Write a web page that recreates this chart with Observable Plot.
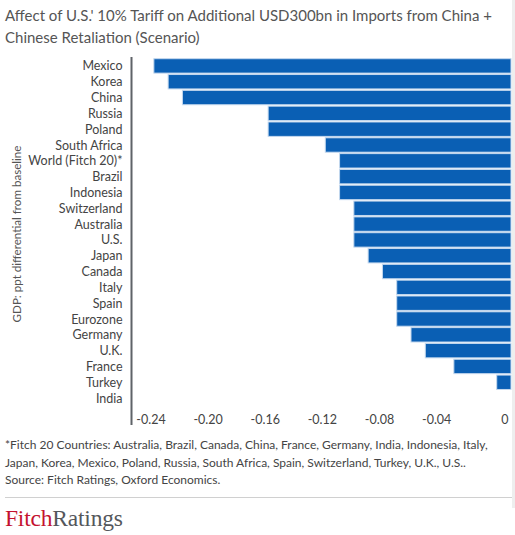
<!DOCTYPE html>
<html>
<head>
<meta charset="utf-8">
<script src="https://cdn.jsdelivr.net/npm/d3@7"></script>
<script src="https://cdn.jsdelivr.net/npm/@observablehq/plot@0.6"></script>
<style>
  html, body { margin: 0; padding: 0; background: #fff; }
  body { width: 515px; height: 535px; position: relative; overflow: hidden; font-family: Lato, "Open Sans", sans-serif; }
  #title { position: absolute; left: 5px; top: 4px; width: 505px; font-size: 15px; line-height: 22px; color: #555; }
  #chart { position: absolute; left: 0; top: 50px; line-height: 0; }
  #chart svg { display: block; }
  #ylabel { position: absolute; left: 17px; top: 234px; transform: translate(-50%, -50%) rotate(-90deg); white-space: nowrap; font-size: 11.6px; color: #555; line-height: 14px; }
  #note { position: absolute; left: 5px; top: 436px; width: 508px; font-size: 12px; line-height: 17.5px; color: #444; }
  #sep { position: absolute; left: 5px; top: 497px; width: 507px; height: 1px; background: #d0d0d0; }
  #logo { position: absolute; left: 5px; top: 505px; font-family: "Liberation Serif", "DejaVu Serif", serif; font-size: 23.5px; line-height: 26px; letter-spacing: -0.2px; }
  #logo .f { color: #c4122f; }
  #logo .r { color: #54575b; }
  #edge { position: absolute; left: 512px; top: 0; width: 3px; height: 508px; background: #eeeeee; }
</style>
</head>
<body>
<div id="title">Affect of U.S.' 10% Tariff on Additional USD300bn in Imports from China + Chinese Retaliation (Scenario)</div>
<div id="chart"></div>
<div id="ylabel">GDP: ppt differential from baseline</div>
<div id="note">*Fitch 20 Countries: Australia, Brazil, Canada, China, France, Germany, India, Indonesia, Italy, Japan, Korea, Mexico, Poland, Russia, South Africa, Spain, Switzerland, Turkey, U.K., U.S..<br>Source: Fitch Ratings, Oxford Economics.</div>
<div id="sep"></div>
<div id="logo"><span class="f">Fitch</span><span class="r">Ratings</span></div>
<div id="edge"></div>
<script>
const countries = ["Mexico","Korea","China","Russia","Poland","South Africa","World (Fitch 20)*","Brazil","Indonesia","Switzerland","Australia","U.S.","Japan","Canada","Italy","Spain","Eurozone","Germany","U.K.","France","Turkey","India"];
const gdpDiff = [-0.25,-0.24,-0.23,-0.17,-0.17,-0.13,-0.12,-0.12,-0.12,-0.11,-0.11,-0.11,-0.10,-0.09,-0.08,-0.08,-0.08,-0.07,-0.06,-0.04,-0.01,0];
const xTicks = [-0.24,-0.20,-0.16,-0.12,-0.08,-0.04,0];

const data = countries.map((c, i) => ({country: c, value: gdpDiff[i]}));
const xMin = -0.266;

const chart = Plot.plot({
  width: 515,
  height: 380,
  marginLeft: 131,
  marginRight: 4,
  marginTop: 8,
  marginBottom: 24,
  style: {fontFamily: "Lato, 'Open Sans', sans-serif", fontSize: "12.5px", color: "#444", background: "transparent"},
  x: {domain: [xMin, 0]},
  y: {domain: countries, range: [8, 356], paddingInner: 0.09, paddingOuter: 0.045, round: false},
  marks: [
    Plot.barX(data, {x1: 0, x2: "value", y: "country", fill: "#0a5fb4", stroke: "#c4d8ee", strokeWidth: 1}),
    Plot.axisY({tickSize: 0, tickPadding: 9, label: null, fill: "#444"}),
    Plot.axisX({ticks: xTicks, tickSize: 0, tickPadding: 9, label: null, textAnchor: "end", dx: -3, fill: "#444",
      tickFormat: d => d === 0 ? "0" : d.toFixed(2)}),
    Plot.ruleX([xMin], {stroke: "#5f6368", strokeWidth: 2, insetTop: -1, insetBottom: -19})
  ]
});
document.getElementById("chart").appendChild(chart);
</script>
</body>
</html>
